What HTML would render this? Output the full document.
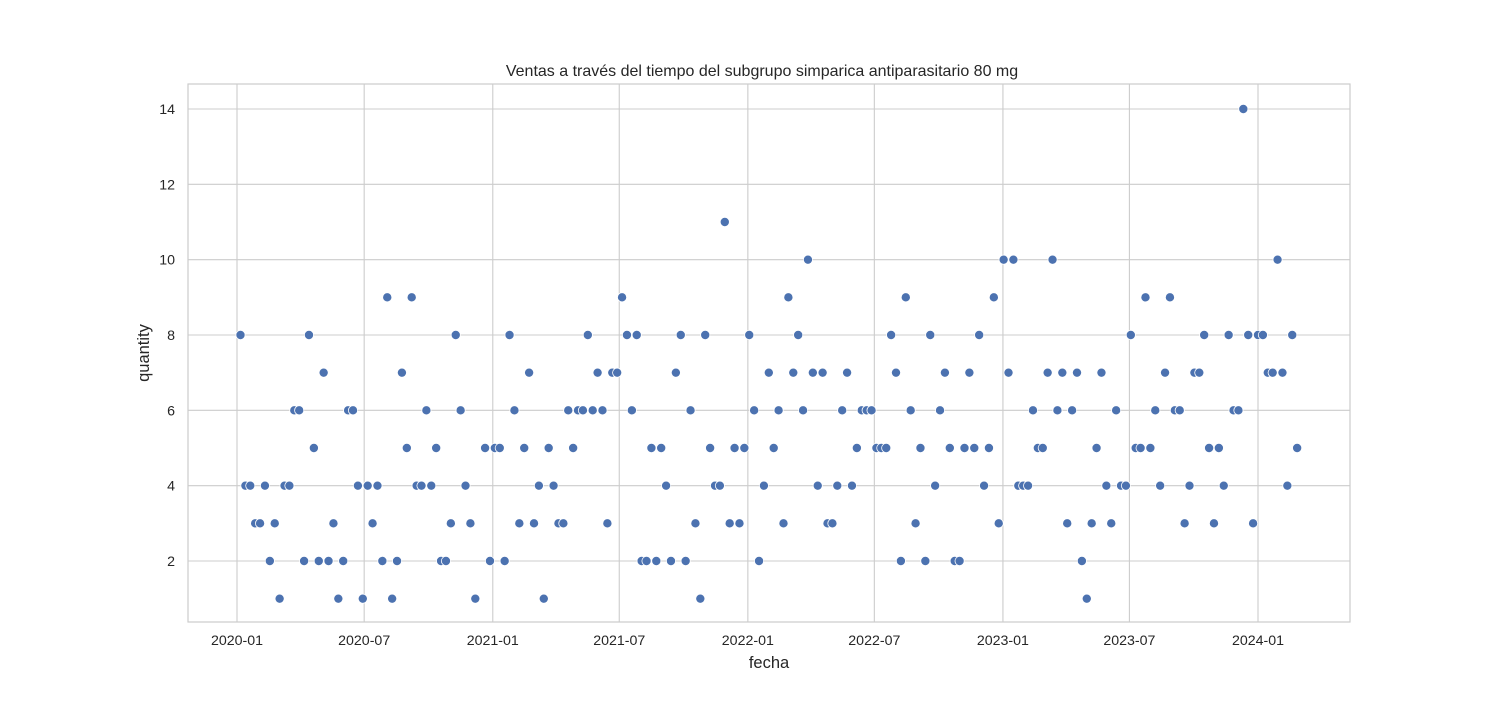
<!DOCTYPE html>
<html><head><meta charset="utf-8"><style>
body{margin:0;background:#fff;font-family:"Liberation Sans","DejaVu Sans",sans-serif}
svg text{font-family:"Liberation Sans","DejaVu Sans",sans-serif;fill:#262626}
</style></head><body>
<svg id="chart" width="1500" height="700" xmlns="http://www.w3.org/2000/svg">
<rect width="1500" height="700" fill="#fff"/>
<g id="grid"></g>
<rect x="188" y="84" width="1162" height="538" fill="none" stroke="#cccccc" stroke-width="1.2"/>
<g id="pts"></g>
<g id="ticks"></g>
<text x="762" y="76" text-anchor="middle" font-size="16">Ventas a través del tiempo del subgrupo simparica antiparasitario 80 mg</text>
<text x="769" y="668" text-anchor="middle" font-size="16.5">fecha</text>
<text x="149" y="353" text-anchor="middle" font-size="16.5" transform="rotate(-90 149 353)">quantity</text>
</svg>
<script>
const startDate = "2020-01-06";
const weekIdx = [];
for (let i=0;i<=48;i++) weekIdx.push(i);
for (let i=50;i<=216;i++) weekIdx.push(i);
const quantities = [8,4,4,3,3,4,2,3,1,4, 4,6,6,2,8,5,2,7,2,3, 1,2,6,6,4,1,4,3,4,2, 9,1,2,7,5,9,4,4,6,4, 5,2,2,3,8,6,4,3,1,
5,2,5,5,2,8,6,3,5,7, 3,4,1,5,4,3,3,6,5,6, 6,8,6,7,6,3,7,7,9,8, 6,8,2,2,5,2,5,4,2,7, 8,2,6,3,1,8,5,4,4,11, 3,5,3,5,8,6,2,4,7,5, 6,3,9,7,8,6,10,7,4,7, 3,3,4,6,7,4,5,6,6,6, 5,5,5,8,7,2,9,6,3,5, 2,8,4,6,7,5,2,2,5,7, 5,8,4,5,9,3,10,7,10,4, 4,4,6,5,5,7,10,6,7,3, 6,7,2,1,3,5,7,4,3,6, 4,4,8,5,5,9,5,6,4,7, 9,6,6,3,4,7,7,8,5,3, 5,4,8,6,6,14,8,3,8,8, 7,7,10,7,4,8,5];
const xTickLabels = ["2020-01","2020-07","2021-01","2021-07","2022-01","2022-07","2023-01","2023-07","2024-01"];
const yTicks = [2,4,6,8,10,12,14];

const NS="http://www.w3.org/2000/svg";
const D0=Date.UTC(2020,0,1), D1=Date.UTC(2024,0,1);
function xs(t){return 237+(t-D0)/(D1-D0)*1021;}
function ys(v){return 561-(v-2)*(452/12);}
function mk(tag,attrs,parent){const e=document.createElementNS(NS,tag);for(const k in attrs)e.setAttribute(k,attrs[k]);parent.appendChild(e);return e;}
const grid=document.getElementById('grid'),ticks=document.getElementById('ticks'),pts=document.getElementById('pts');
xTickLabels.forEach(l=>{
  const [y,m]=l.split('-').map(Number);
  const x=xs(Date.UTC(y,m-1,1));
  const g=mk('line',{x1:x,x2:x,y1:84,y2:622,stroke:'#cccccc','stroke-width':1.1},grid);
  
  
  const t=mk('text',{x:x,y:645,'text-anchor':'middle','font-size':14.2},ticks);
  t.textContent=l;
  
  
});
yTicks.forEach(v=>{
  const y=ys(v);
  const g=mk('line',{x1:188,x2:1350,y1:y,y2:y,stroke:'#cccccc','stroke-width':1.1},grid);
  
  
  const t=mk('text',{x:175,y:y+5,'text-anchor':'end','font-size':14.2},ticks);
  t.textContent=v;
  
  
});
const s=new Date(startDate+"T00:00:00Z").getTime();
quantities.forEach((q,i)=>{
  const t=s+weekIdx[i]*7*86400000;
  const c=mk('circle',{cx:xs(t),cy:ys(q),r:4.6,fill:'#4c72b0',stroke:'#fff','stroke-width':0.8},pts);
  
  
});
</script>
</body></html>
